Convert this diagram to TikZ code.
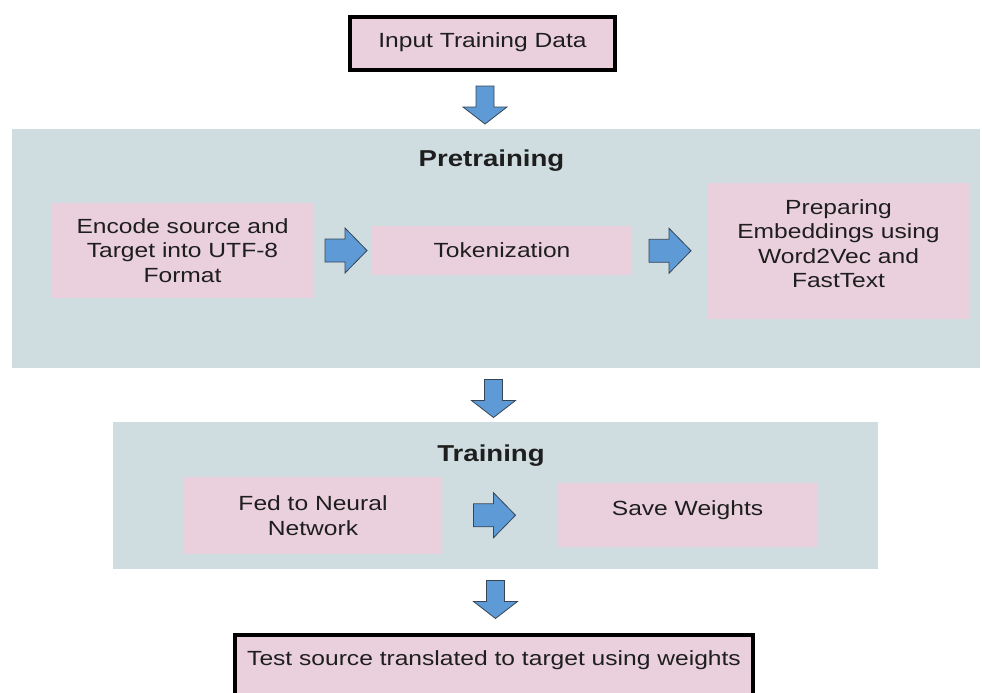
\documentclass[tikz,border=0pt]{standalone}
\usepackage{fontspec}
\setmainfont{Liberation Sans}[FakeStretch=1.2]
\usetikzlibrary{calc}
\definecolor{pinkfill}{RGB}{234,208,220}
\definecolor{panelfill}{RGB}{207,221,225}
\definecolor{arrowfill}{RGB}{94,154,214}
\definecolor{arrowedge}{RGB}{55,70,85}
\definecolor{txt}{RGB}{30,30,30}
\newcommand{\lines}[2]{\raisebox{0pt}[\height][\dimexpr\depth+#1\relax]{\begin{tabular}{@{}c@{}}#2\end{tabular}}}
\begin{document}
\begin{tikzpicture}[x=1pt,y=-1pt,
  every node/.style={inner sep=0pt, outer sep=0pt, text=txt, font=\fontsize{20.5}{24.5}\selectfont},
  panel/.style={fill=panelfill, draw=none},
  pbox/.style={fill=pinkfill, draw=none, align=center},
  tbox/.style={fill=pinkfill, draw=black, line width=3.5pt, align=center},
  title/.style={font=\fontsize{23}{27}\selectfont\bfseries},
  blockarrow/.style={fill=arrowfill, draw=arrowedge, line width=0.8pt, line join=miter},
  pics/downarrow/.style={code={\draw[blockarrow] (-9,-19) -- (9,-19) -- (9,2) -- (22,2) -- (0,19) -- (-22,2) -- (-9,2) -- cycle;}},
  pics/rightarrow/.style={code={\draw[blockarrow] (-21,-11.5) -- (-1,-11.5) -- (-1,-22.5) -- (21,0) -- (-1,22.5) -- (-1,11.5) -- (-21,11.5) -- cycle;}}
]
\useasboundingbox (0,0) rectangle (982,693);
\clip (0,0) rectangle (982,693);
\fill[white] (0,0) rectangle (982,693);

\node[tbox, minimum width=265pt, minimum height=53pt] (input) at (482.5,43.5) {\raisebox{7pt}{Input Training Data}};

\node[panel, minimum width=968pt, minimum height=239pt] (pre) at (496,248.5) {};
\node[title] (pretitle) at (491.5,161) {Pretraining};
\node[pbox, minimum width=261pt, minimum height=95pt] (enc) at (182.5,250.5) {Encode source and\\Target into UTF-8\\Format};
\node[pbox, minimum width=260pt, minimum height=49pt] (tok) at (502,250.5) {Tokenization};
\node[pbox, minimum width=261pt, minimum height=136pt] (prep) at (838.5,251) {\lines{10pt}{Preparing\\Embeddings using\\Word2Vec and\\FastText}};

\node[panel, minimum width=765pt, minimum height=147pt] (train) at (495.5,495.5) {};
\node[title] (traintitle) at (491,456) {Training};
\node[pbox, minimum width=258pt, minimum height=77pt] (fed) at (313,515.5) {Fed to Neural\\Network};
\node[pbox, minimum width=259pt, minimum height=64pt] (save) at (687.5,515) {\raisebox{14pt}{Save Weights}};

\node[tbox, minimum width=518pt, minimum height=70pt] (test) at (494,670) {\raisebox{24pt}{Test source translated to target using weights}};

\pic at ($(input.south)!0.5!(pre.north)+(-4.25,5.5)$) {downarrow};
\pic at ($(enc.east)!0.5!(tok.west)+(3.5,0)$) {rightarrow};
\pic at ($(tok.east)!0.5!(prep.west)$) {rightarrow};
\pic at ($(pre.south)!0.5!(train.north)+(-2.25,3.5)$) {downarrow};
\pic at ($(fed.east)!0.5!(save.west)+(-5.5,0)$) {rightarrow};
\pic at ($(train.south)!0.5!(test.north)+(0.75,-2.5)$) {downarrow};
\end{tikzpicture}
\end{document}
